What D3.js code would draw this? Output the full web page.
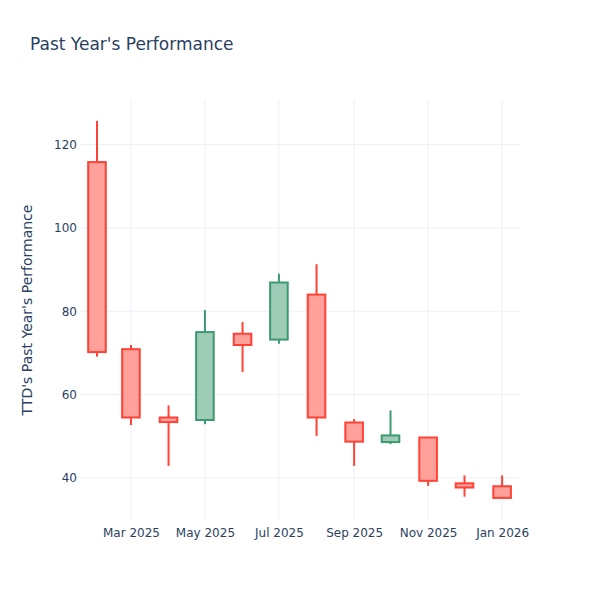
<!DOCTYPE html>
<html>
<head>
<meta charset="utf-8">
<script src="https://cdn.jsdelivr.net/npm/d3@7"></script>
<style>
  body { margin: 0; background: #fff; }
  text { font-family: "DejaVu Sans", verdana, arial, sans-serif; fill: #2a3f5f; }
</style>
</head>
<body>
<svg id="chart" width="600" height="600"></svg>
<script>
// monthly candles
const months = ["2025-02-01", "2025-03-01", "2025-04-01", "2025-05-01", "2025-06-01", "2025-07-01",
                "2025-08-01", "2025-09-01", "2025-10-01", "2025-11-01", "2025-12-01", "2026-01-01"];
const open  = [115.8, 70.9, 54.5, 53.9, 74.6, 73.2, 84.0, 53.3, 48.6, 49.7, 38.7, 38.0];
const high  = [125.7, 71.9, 57.4, 80.3, 77.4, 89.0, 91.3, 54.1, 56.2, 49.8, 40.6, 40.6];
const low   = [69.1, 52.7, 42.9, 52.9, 65.4, 72.2, 50.1, 42.9, 48.1, 38.1, 35.5, 35.2];
const close = [70.2, 54.5, 53.4, 75.0, 71.9, 86.9, 54.5, 48.7, 50.2, 39.3, 37.7, 35.2];
const yTicks = [40, 60, 80, 100, 120];

const svg = d3.select('#chart');
const margin = { top: 100, right: 80, bottom: 80, left: 80 };
const width = 600 - margin.left - margin.right;
const height = 600 - margin.top - margin.bottom;

const data = months.map((m, i) => ({
    date: new Date(m + "T00:00:00Z"), open: open[i], high: high[i], low: low[i], close: close[i]
}));

const x = d3.scaleUtc()
    .domain([new Date("2025-01-18T00:00:00Z"), new Date("2026-01-15T18:00:00Z")])
    .range([0, width]);
const y = d3.scaleLinear().domain([29.9, 130.7]).range([height, 0]);

const g = svg.append('g').attr('transform', `translate(${margin.left},${margin.top})`);

// grid
const xTicks = x.ticks(d3.utcMonth.every(2));
g.append('g').selectAll('line').data(xTicks).join('line')
    .attr('x1', d => x(d)).attr('x2', d => x(d))
    .attr('y1', 0).attr('y2', height)
    .attr('stroke', '#EBF0F8').attr('stroke-width', 1);
g.append('g').selectAll('line').data(yTicks).join('line')
    .attr('x1', 0).attr('x2', width)
    .attr('y1', d => y(d)).attr('y2', d => y(d))
    .attr('stroke', '#EBF0F8').attr('stroke-width', 1);

// axes (labels only, plotly style)
const xAxis = g.append('g').attr('transform', `translate(0,${height})`)
    .call(d3.axisBottom(x).tickValues(xTicks).tickFormat(d3.utcFormat('%b %Y')).tickSize(0).tickPadding(8));
xAxis.select('.domain').remove();
xAxis.selectAll('text').style('font-size', '12px').attr('fill', '#2a3f5f');

const yAxis = g.append('g')
    .call(d3.axisLeft(y).tickValues(yTicks).tickSize(0).tickPadding(3));
yAxis.select('.domain').remove();
yAxis.selectAll('text').style('font-size', '12px').attr('fill', '#2a3f5f');

// candles
const dayPx = x(new Date("2025-02-02T00:00:00Z")) - x(new Date("2025-02-01T00:00:00Z"));
const bw = dayPx * 14.5;
const colorUp = '#3D9970', colorDown = '#FF4136';
const col = d => d.close >= d.open ? colorUp : colorDown;

const candle = g.append('g').selectAll('g').data(data).join('g');
candle.append('line')
    .attr('x1', d => x(d.date)).attr('x2', d => x(d.date))
    .attr('y1', d => y(d.high)).attr('y2', d => y(d.low))
    .attr('stroke', col).attr('stroke-width', 2);
candle.append('rect')
    .attr('x', d => x(d.date) - bw / 2)
    .attr('width', bw)
    .attr('y', d => y(Math.max(d.open, d.close)))
    .attr('height', d => Math.max(1, Math.abs(y(d.open) - y(d.close))))
    .attr('fill', '#fff')
    .attr('stroke', 'none');
candle.append('rect')
    .attr('x', d => x(d.date) - bw / 2)
    .attr('width', bw)
    .attr('y', d => y(Math.max(d.open, d.close)))
    .attr('height', d => Math.max(1, Math.abs(y(d.open) - y(d.close))))
    .attr('fill', col).attr('fill-opacity', 0.5)
    .attr('stroke', col).attr('stroke-width', 2);

// titles
svg.append('text')
    .attr('x', 30).attr('y', 50)
    .style('font-size', '17px')
    .text("Past Year's Performance");

svg.append('text')
    .attr('transform', `translate(32,${margin.top + height / 2}) rotate(-90)`)
    .attr('text-anchor', 'middle')
    .style('font-size', '14px')
    .text("TTD's Past Year's Performance");
</script>
</body>
</html>
